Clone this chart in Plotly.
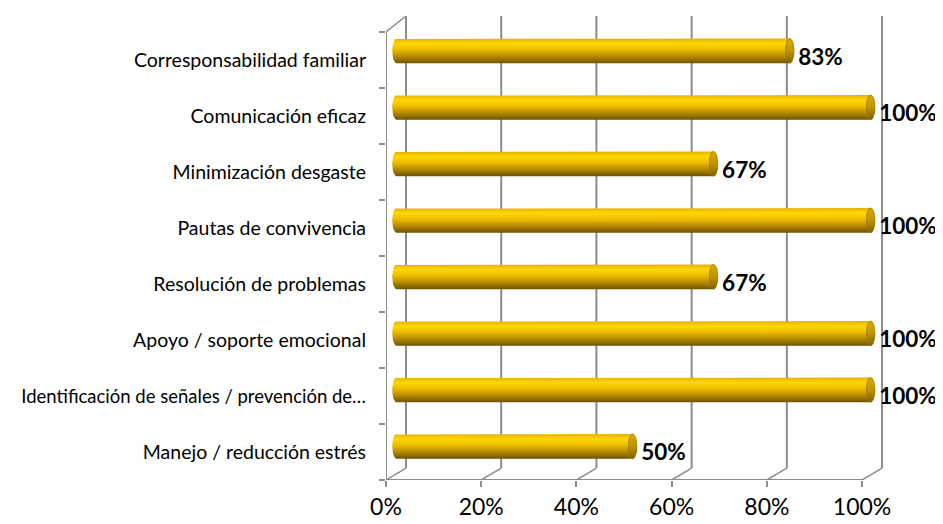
import numpy as np
import plotly.graph_objects as go

# data, bottom to top as drawn
categories = [
    'Manejo / reducción estrés',
    'Identificación de señales / prevención de…',
    'Apoyo / soporte emocional',
    'Resolución de problemas',
    'Pautas de convivencia',
    'Minimización desgaste',
    'Comunicación eficaz',
    'Corresponsabilidad familiar',
]
values = [50, 100, 100, 67, 100, 67, 100, 83]
x_ticks = [0, 20, 40, 60, 80, 100]
x_tick_labels = ['0%', '20%', '40%', '60%', '80%', '100%']

GRID = '#8c8c8c'
FONT = 'Lato'
DX = 4.2          # depth shift of the back wall, in % units
DY_TOP = 0.286    # depth shift at the top, in category units
DY_BOT = 0.214    # depth shift at the bottom
HALF_H = 0.22     # half thickness of a cylinder
RX = 0.9          # horizontal radius of the end ellipses
X_MAX = 117       # plot area runs to the right page edge

body_scale = [[0, '#6e5200'], [0.22, '#a88000'], [0.55, '#eebc00'], [0.8, '#ffd700'], [1, '#e6b000']]
cap_scale = [[0, '#7d5e00'], [0.5, '#c09400'], [1, '#dcaa00']]

fig = go.Figure()

n = len(categories)
for i, (cat, v) in enumerate(zip(categories, values)):
    yc = i + 0.1 + 0.009 * i
    x0 = 1.3 + RX
    x1 = v + 2.7 - RX
    t_right = np.linspace(-np.pi / 2, np.pi / 2, 25)
    t_left = np.linspace(np.pi / 2, 3 * np.pi / 2, 25)
    xs = list(x1 + RX * np.cos(t_right)) + list(x0 + RX * np.cos(t_left))
    ys = list(yc + HALF_H * np.sin(t_right)) + list(yc + HALF_H * np.sin(t_left))
    fig.add_trace(go.Scatter(
        x=xs + [xs[0]], y=ys + [ys[0]], mode='lines', fill='toself',
        line=dict(width=0, color='#b08600'),
        fillgradient=dict(type='vertical', colorscale=body_scale),
        hoverinfo='skip', showlegend=False,
    ))
    t = np.linspace(0, 2 * np.pi, 40)
    fig.add_trace(go.Scatter(
        x=x1 + RX * np.cos(t), y=yc + HALF_H * np.sin(t), mode='lines', fill='toself',
        line=dict(width=0.8, color='#a07800'),
        fillgradient=dict(type='vertical', colorscale=cap_scale),
        hoverinfo='skip', showlegend=False,
    ))
    fig.add_trace(go.Scatter(
        x=[v + 3.6], y=[yc - 0.15], mode='text', text=[f'{v}%'], textposition='middle right',
        textfont=dict(family=FONT, size=22.5, color='black', weight='bold'),
        hoverinfo='skip', showlegend=False, cliponaxis=False,
    ))

# back wall gridlines and floor diagonals
for t in x_ticks:
    fig.add_shape(type='line', xref='x', yref='y', x0=t + DX, x1=t + DX,
                  y0=-0.5 + DY_BOT, y1=n - 0.5 + DY_TOP, line=dict(color=GRID, width=2), layer='below')
    fig.add_shape(type='line', xref='x', yref='y', x0=t, x1=t + DX,
                  y0=-0.5, y1=-0.5 + DY_BOT, line=dict(color=GRID, width=1.5), layer='below')
# front edges: value axis floor line, left wall edge and top diagonal
fig.add_shape(type='line', xref='x', yref='y', x0=0, x1=x_ticks[-1], y0=-0.5, y1=-0.5,
              line=dict(color=GRID, width=2), layer='below')
fig.add_shape(type='line', xref='x', yref='y', x0=0, x1=0, y0=-0.5, y1=n - 0.5,
              line=dict(color=GRID, width=2), layer='below')
fig.add_shape(type='line', xref='x', yref='y', x0=0, x1=DX, y0=n - 0.5, y1=n - 0.5 + DY_TOP,
              line=dict(color=GRID, width=1.5), layer='below')

# the long truncated label is set a little smaller so it stays on the page
tick_text = [f'<span style="font-size:18.5px">{c}</span>' if len(c) > 35 else c for c in categories]

# page body has an 8px margin, so the figure is sized and offset for that
fig.update_layout(
    width=935, height=516,
    margin=dict(l=378, r=0, t=8, b=44),
    paper_bgcolor='white', plot_bgcolor='white',
    showlegend=False,
    xaxis=dict(
        range=[0, X_MAX], tickvals=x_ticks, ticktext=x_tick_labels, automargin=False,
        showgrid=False, zeroline=False, showline=False,
        ticks='outside', ticklen=6, tickcolor=GRID, tickwidth=1.5,
        tickfont=dict(family=FONT, size=23, color='black'),
    ),
    yaxis=dict(
        range=[-0.5, n - 0.5 + DY_TOP], tickvals=list(range(n)), ticktext=tick_text,
        automargin=False, showgrid=False, zeroline=False, showline=False, ticks='',
        tickfont=dict(family=FONT, size=19.5, color='black'), ticklabelstandoff=19,
        minor=dict(tickvals=[k - 0.5 for k in range(n + 1)], ticks='outside', ticklen=6,
                   tickcolor=GRID, tickwidth=1.5, showgrid=False),
    ),
)

fig.write_html('out.html')
